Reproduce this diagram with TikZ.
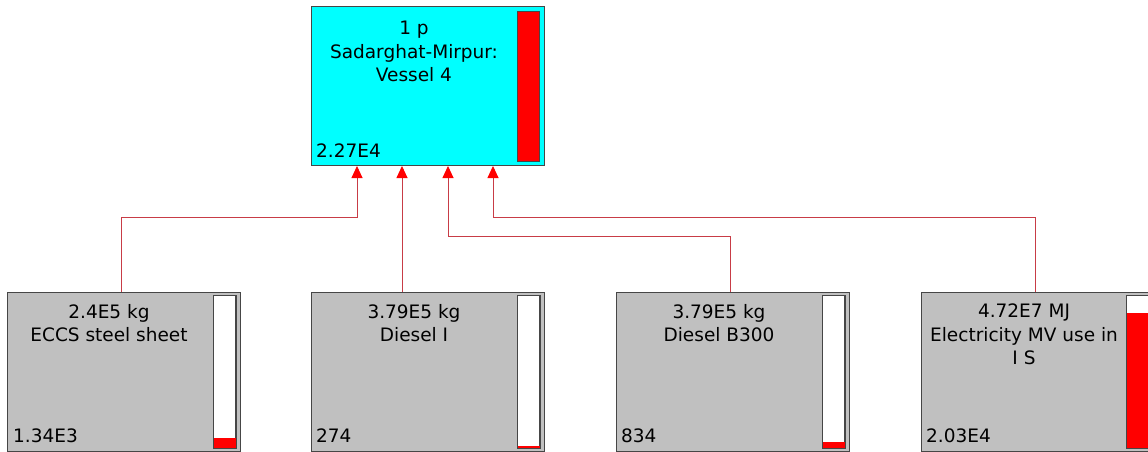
\documentclass[tikz,border=0pt]{standalone}
\usepackage{fontspec}
\setmainfont{DejaVu Sans}
\usetikzlibrary{arrows.meta}
\definecolor{cyanbox}{RGB}{0,255,255}
\definecolor{graybox}{RGB}{192,192,192}
\definecolor{edgecol}{RGB}{70,70,70}
\definecolor{flowline}{RGB}{200,60,70}
\definecolor{barred}{RGB}{255,0,0}
\begin{document}
\begin{tikzpicture}[x=1pt,y=-1pt,
  box/.style={draw=edgecol, line width=1pt, minimum width=233pt, minimum height=159pt, anchor=north west, inner sep=0pt},
  barbox/.style={draw=edgecol, fill=white, line width=1pt, minimum width=22pt, minimum height=152pt, anchor=north east, inner sep=0pt},
  lbl/.style={font=\fontsize{18.5}{23.5}\selectfont, align=center, anchor=north, inner sep=0pt},
  val/.style={font=\fontsize{18.5}{22}\selectfont, anchor=base west, inner sep=0pt},
  flow/.style={draw=flowline, line width=0.9pt, -{Triangle[width=11pt,length=12pt,color=barred]}}
]
\useasboundingbox (0,0) rectangle (1148,452);
\clip (0,0) rectangle (1148,452);

% top box
\node[box, fill=cyanbox] (top) at (311,6) {};
\node[barbox, fill=barred, minimum height=150pt] (topbar) at ([xshift=-5pt,yshift=-5pt]top.north east) {};
\node[lbl] (toplbl) at (414,21) {1 p\\Sadarghat-Mirpur:\\Vessel 4};
\node[val] (topval) at (316,157) {2.27E4};

% bottom boxes
\node[box, fill=graybox] (b1) at (7,292) {};
\node[box, fill=graybox] (b2) at (311,292) {};
\node[box, fill=graybox] (b3) at (616,292) {};
\node[box, fill=graybox] (b4) at (921,292) {};

\node[barbox] (bar1) at ([xshift=-5pt,yshift=-3pt]b1.north east) {};
\node[barbox] (bar2) at ([xshift=-5pt,yshift=-3pt]b2.north east) {};
\node[barbox] (bar3) at ([xshift=-5pt,yshift=-3pt]b3.north east) {};
\node[barbox] (bar4) at ([xshift=-6pt,yshift=-3pt]b4.north east) {};

\fill[barred] (bar1.south west) rectangle ([yshift=10pt]bar1.south east);
\fill[barred] (bar2.south west) rectangle ([yshift=2pt]bar2.south east);
\fill[barred] (bar3.south west) rectangle ([yshift=6pt]bar3.south east);
\fill[barred] (bar4.south west) rectangle ([yshift=135pt]bar4.south east);
\foreach \b in {bar1,bar2,bar3,bar4}
  \draw[edgecol, line width=1pt] (\b.south west) rectangle (\b.north east);

\node[lbl] (l1) at (109,304) {2.4E5 kg\\ECCS steel sheet};
\node[lbl] (l2) at (414,304) {3.79E5 kg\\Diesel I};
\node[lbl] (l3) at (719,304) {3.79E5 kg\\Diesel B300};
\node[lbl] (l4) at (1024,304) {4.72E7 MJ\\Electricity MV use in\\I S};

\node[val] (v1) at (13,442) {1.34E3};
\node[val] (v2) at (316,442) {274};
\node[val] (v3) at (621,442) {834};
\node[val] (v4) at (926,442) {2.03E4};

% connectors
\coordinate (s1) at ([xshift=114pt]b1.north west);
\coordinate (s2) at ([xshift=91pt]b2.north west);
\coordinate (s3) at ([xshift=114pt]b3.north west);
\coordinate (s4) at ([xshift=114pt]b4.north west);
\coordinate (t1) at ([xshift=46pt]top.south west);
\coordinate (t2) at ([xshift=91pt]top.south west);
\coordinate (t3) at ([xshift=137pt]top.south west);
\coordinate (t4) at ([xshift=182pt]top.south west);

\draw[flow] (s1) -- ++(0,-75) -| (t1);
\draw[flow] (s2) -- (t2);
\draw[flow] (s3) -- ++(0,-56) -| (t3);
\draw[flow] (s4) -- ++(0,-75) -| (t4);
\end{tikzpicture}
\end{document}
